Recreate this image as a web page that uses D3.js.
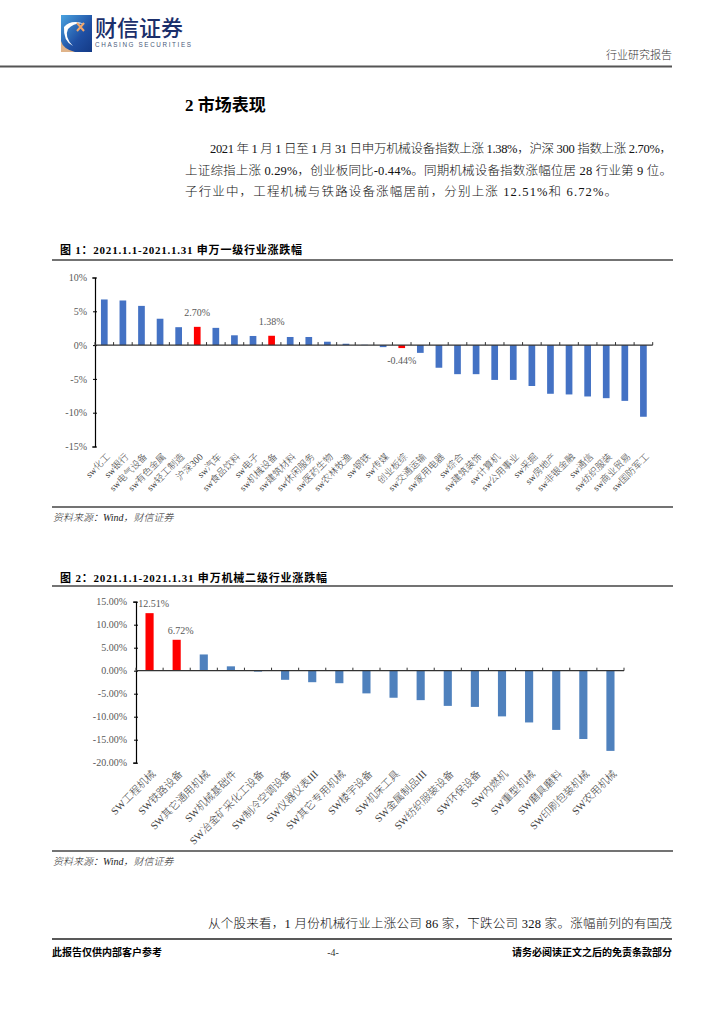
<!DOCTYPE html>
<html><head><meta charset="utf-8">
<script src="https://cdn.jsdelivr.net/npm/d3@7"></script>
<style>
html,body{margin:0;padding:0;background:#fff;}
svg{display:block;}
</style></head>
<body>
<svg id="page" width="724" height="1024"></svg>
<script>
// ---------- DATA ----------
const cats1 = ["sw化工","sw银行","sw电气设备","sw有色金属","sw轻工制造","沪深300","sw汽车","sw食品饮料","sw电子","sw机械设备","sw建筑材料","sw休闲服务","sw医药生物","sw农林牧渔","sw钢铁","sw传媒","创业板综","sw交通运输","sw家用电器","sw综合","sw建筑装饰","sw计算机","sw公用事业","sw采掘","sw房地产","sw非银金融","sw通信","sw纺织服装","sw商业贸易","sw国防军工"];
const vals1 = [6.75,6.6,5.8,3.9,2.65,2.70,2.55,1.45,1.35,1.38,1.2,1.2,0.5,0.2,0.05,-0.3,-0.44,-1.15,-3.35,-4.3,-4.3,-5.15,-5.15,-6.05,-7.2,-7.3,-7.6,-7.85,-8.25,-10.6];
const redCats1 = ["沪深300","sw机械设备","创业板综"];
const ticks1 = [10,5,0,-5,-10,-15];

const cats2 = ["SW工程机械","SW铁路设备","SW其它通用机械","SW机械基础件","SW冶金矿采化工设备","SW制冷空调设备","SW仪器仪表III","SW其它专用机械","SW楼宇设备","SW机床工具","SW金属制品III","SW纺织服装设备","SW环保设备","SW内燃机","SW重型机械","SW磨具磨料","SW印刷包装机械","SW农用机械"];
const vals2 = [12.51,6.72,3.53,0.95,-0.2,-1.98,-2.5,-2.72,-4.93,-5.88,-6.4,-7.65,-7.87,-9.93,-11.25,-12.87,-14.85,-17.43];
const redCats2 = ["SW工程机械","SW铁路设备"];
const ticks2 = [15,10,5,0,-5,-10,-15,-20];

const paraLines = [
  "2021 年 1 月 1 日至 1 月 31 日申万机械设备指数上涨 1.38%，沪深 300 指数上涨 2.70%，",
  "上证综指上涨 0.29%，创业板同比-0.44%。同期机械设备指数涨幅位居 28 行业第 9 位。",
  "子行业中，工程机械与铁路设备涨幅居前，分别上涨 12.51%和 6.72%。"
];

// ---------- PAGE ----------
const svg = d3.select("#page");
const FONT = '"Liberation Serif","Noto Sans CJK SC",serif';

// Logo
const defs = svg.append("defs");
const lg = defs.append("linearGradient").attr("id","lg").attr("x1","0").attr("y1","0").attr("x2","1").attr("y2","1");
lg.append("stop").attr("offset","0").attr("stop-color","#4aa3e0");
lg.append("stop").attr("offset","0.6").attr("stop-color","#1f4fa3");
lg.append("stop").attr("offset","1").attr("stop-color","#143a86");
const logo = svg.append("g").attr("transform","translate(61,15)");
logo.append("rect").attr("width",31).attr("height",37).attr("fill","url(#lg)");
logo.append("path").attr("d","M0,26 Q2,34 14,37 L0,37 Z").attr("fill","#e0b48a");
logo.append("path").attr("d","M3,12 Q10,4 24,9 Q14,7 7,14 Q3,22 12,31 Q2,26 3,12 Z").attr("fill","#ffffff");
logo.append("path").attr("d","M16,8 L23,16 M23,8 L16,16").attr("stroke","#f2a66a").attr("stroke-width",2);
svg.append("text").attr("x",95).attr("y",36).attr("font-family",'"Noto Sans CJK SC",sans-serif')
  .attr("font-size",22).attr("fill","#1b2f6b").attr("font-weight",500).text("财信证券");
svg.append("text").attr("x",95).attr("y",47).attr("font-family",'"Liberation Sans",Arial,sans-serif')
  .attr("font-size",6.3).attr("fill","#4a5a7a").attr("textLength",96).text("CHASING SECURITIES");
svg.append("text").attr("x",672).attr("y",59).attr("text-anchor","end").attr("font-family",FONT)
  .attr("font-size",11).attr("font-weight",300).attr("fill","#333").text("行业研究报告");
svg.append("line").attr("x1",0).attr("x2",672).attr("y1",66.5).attr("y2",66.5).attr("stroke","#555").attr("stroke-width",2);

// Section title
svg.append("text").attr("x",185).attr("y",111).attr("font-family",FONT).attr("font-size",17)
  .attr("font-weight","bold").attr("fill","#000").text("2 市场表现");

// Paragraph
const paraY = [153,175,196];
const paraX = [210,185,185];
const paraW = [462,487,432];
paraLines.forEach((t,i)=>{
  svg.append("text").attr("x",paraX[i]).attr("y",paraY[i]).attr("font-family",FONT).attr("font-size",12.5)
    .attr("font-weight",300).attr("fill","#111")
    .attr("textLength",paraW[i]).attr("lengthAdjust","spacing").text(t);
});

// Figure titles / rules / sources
function figFrame(title, titleLen, titleY, lineY, bottomY, srcY){
  svg.append("text").attr("x",60).attr("y",titleY).attr("font-family",FONT).attr("font-size",11)
    .attr("font-weight","bold").attr("fill","#000")
    .attr("textLength",titleLen).attr("lengthAdjust","spacing").text(title);
  svg.append("line").attr("x1",52).attr("x2",673).attr("y1",lineY).attr("y2",lineY).attr("stroke","#444").attr("stroke-width",1.3);
  svg.append("line").attr("x1",52).attr("x2",673).attr("y1",bottomY).attr("y2",bottomY).attr("stroke","#444").attr("stroke-width",1.3);
  svg.append("text").attr("x",53).attr("y",srcY).attr("font-family",FONT).attr("font-size",10)
    .attr("font-style","italic").attr("font-weight",300).attr("fill","#222").text("资料来源：Wind，财信证券");
}
figFrame("图 1：2021.1.1-2021.1.31 申万一级行业涨跌幅",242,254,260,507,521);
figFrame("图 2：2021.1.1-2021.1.31 申万机械二级行业涨跌幅",267,582,586,851,865);

// ---------- CHART 1 ----------
{
  const x = d3.scaleBand().domain(cats1).range([95,652.7]).paddingInner(0.64).paddingOuter(0.32);
  const y = d3.scaleLinear().domain([-15,10]).range([446.5,277.5]);
  const g = svg.append("g");
  g.selectAll("rect.b").data(cats1.map((c,i)=>({c,v:vals1[i]}))).join("rect")
    .attr("x",d=>x(d.c)).attr("width",x.bandwidth())
    .attr("y",d=>y(Math.max(0,d.v))).attr("height",d=>Math.abs(y(d.v)-y(0)))
    .attr("fill",d=>redCats1.includes(d.c)?"#ff0000":"#4472c4");
  const ya = g.append("g").attr("transform","translate(95,0)")
    .call(d3.axisLeft(y).tickValues(ticks1).tickSize(3).tickPadding(5).tickFormat(d=>d+"%"));
  ya.select(".domain").attr("stroke","#000").attr("stroke-width",1.2);
  ya.selectAll(".tick line").attr("stroke","#000").attr("x2",2).attr("x1",-2);
  ya.selectAll(".tick text").attr("font-family",FONT).attr("font-size",10).attr("fill","#595959");
  g.append("line").attr("x1",95).attr("x2",652.7).attr("y1",y(0)).attr("y2",y(0)).attr("stroke","#333").attr("stroke-width",1.2);
  g.selectAll("line.t").data(d3.range(cats1.length+1)).join("line")
    .attr("x1",i=>95+i*(652.7-95)/cats1.length).attr("x2",i=>95+i*(652.7-95)/cats1.length)
    .attr("y1",y(0)-3).attr("y2",y(0)).attr("stroke","#333");
  g.selectAll("text.xl").data(cats1).join("text")
    .attr("transform",d=>`translate(${x(d)+x.bandwidth()/2+4},455) rotate(-45)`)
    .attr("text-anchor","end").attr("dy","0.35em").attr("font-family",FONT).attr("font-size",9.5)
    .attr("font-weight",300).attr("fill","#404040").text(d=>d);
  const dl = [{c:"沪深300",dy:-11},{c:"sw机械设备",dy:-11},{c:"创业板综",dy:16}];
  dl.forEach(o=>{
    const v = vals1[cats1.indexOf(o.c)];
    g.append("text").attr("x",x(o.c)+x.bandwidth()/2).attr("y",y(v)+o.dy)
      .attr("text-anchor","middle").attr("font-family",FONT).attr("font-size",10).attr("fill","#595959")
      .text(v.toFixed(2)+"%");
  });
}

// ---------- CHART 2 ----------
{
  const x = d3.scaleBand().domain(cats2).range([136,624]).paddingInner(0.7).paddingOuter(0.35);
  const y = d3.scaleLinear().domain([-20,15]).range([762.7,601.7]);
  const g = svg.append("g");
  g.selectAll("rect.b").data(cats2.map((c,i)=>({c,v:vals2[i]}))).join("rect")
    .attr("x",d=>x(d.c)).attr("width",x.bandwidth())
    .attr("y",d=>y(Math.max(0,d.v))).attr("height",d=>Math.abs(y(d.v)-y(0)))
    .attr("fill",d=>redCats2.includes(d.c)?"#ff0000":"#4f81bd");
  const ya = g.append("g").attr("transform","translate(136,0)")
    .call(d3.axisLeft(y).tickValues(ticks2).tickSize(3).tickPadding(6).tickFormat(d=>d.toFixed(2)+"%"));
  ya.select(".domain").attr("stroke","#000").attr("stroke-width",1.2);
  ya.selectAll(".tick line").attr("stroke","#000").attr("x1",-2).attr("x2",2);
  ya.selectAll(".tick text").attr("font-family",FONT).attr("font-size",10).attr("fill","#595959");
  g.append("line").attr("x1",136).attr("x2",624).attr("y1",y(0)).attr("y2",y(0)).attr("stroke","#333").attr("stroke-width",1.2);
  g.selectAll("line.t").data(d3.range(cats2.length+1)).join("line")
    .attr("x1",i=>136+i*(624-136)/cats2.length).attr("x2",i=>136+i*(624-136)/cats2.length)
    .attr("y1",y(0)-3).attr("y2",y(0)).attr("stroke","#333");
  g.selectAll("text.xl").data(cats2).join("text")
    .attr("transform",d=>`translate(${x(d)+x.bandwidth()/2+4},772) rotate(-45)`)
    .attr("text-anchor","end").attr("dy","0.35em").attr("font-family",FONT).attr("font-size",10.5)
    .attr("font-weight",300).attr("fill","#404040").text(d=>d);
  [0,1].forEach(i=>{
    const c = cats2[i], v = vals2[i];
    g.append("text").attr("x",x(c)+x.bandwidth()/2+4).attr("y",y(v)-6)
      .attr("text-anchor","middle").attr("font-family",FONT).attr("font-size",10).attr("fill","#595959")
      .text(v.toFixed(2)+"%");
  });
}

// ---------- FOOTER ----------
svg.append("text").attr("x",208).attr("y",928).attr("font-family",FONT).attr("font-size",12.5)
  .attr("font-weight",300).attr("fill","#111")
  .attr("textLength",464).attr("lengthAdjust","spacing")
  .text("从个股来看，1 月份机械行业上涨公司 86 家，下跌公司 328 家。涨幅前列的有国茂");
svg.append("line").attr("x1",52).attr("x2",672).attr("y1",939).attr("y2",939).attr("stroke","#222").attr("stroke-width",1.5);
svg.append("text").attr("x",52).attr("y",956).attr("font-family",FONT).attr("font-size",10)
  .attr("font-weight","bold").text("此报告仅供内部客户参考");
svg.append("text").attr("x",333).attr("y",956).attr("text-anchor","middle").attr("font-family",FONT).attr("font-size",10)
  .attr("fill","#333").text("-4-");
svg.append("text").attr("x",672).attr("y",956).attr("text-anchor","end").attr("font-family",FONT).attr("font-size",10)
  .attr("font-weight","bold").text("请务必阅读正文之后的免责条款部分");
</script>
</body></html>
